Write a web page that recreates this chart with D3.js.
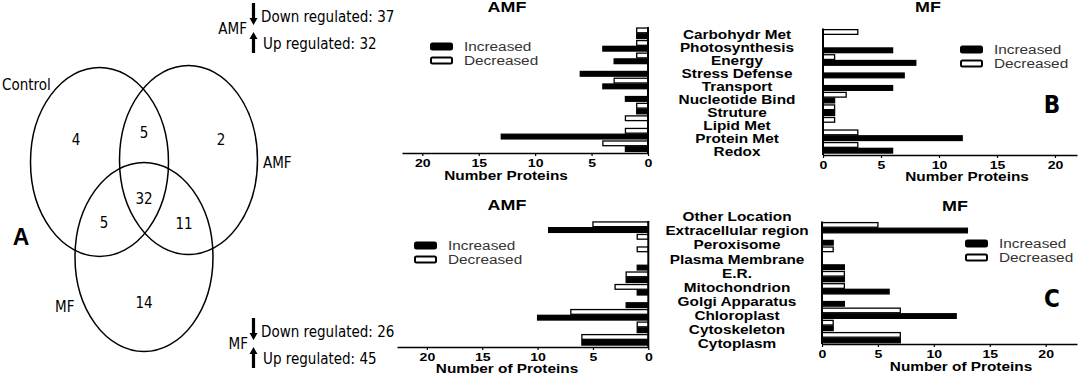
<!DOCTYPE html>
<html>
<head>
<meta charset="utf-8">
<script src="https://d3js.org/d3.v7.min.js"></script>
<style>
  body { margin: 0; background: #fff; }
  svg { display: block; }
  .bar-txt { font-family: "Liberation Sans", Arial, sans-serif; }
  .venn-txt { font-family: "Liberation Sans Narrow", "DejaVu Sans Condensed", sans-serif; }
</style>
</head>
<body>
<script>
// ---- data ----
var funcCats = ["Carbohydr Met", "Photosynthesis", "Energy", "Stress Defense", "Transport",
                "Nucleotide Bind", "Struture", "Lipid Met", "Protein Met", "Redox"];
var funcAmfInc = [1, 4, 3, 6, 4, 2, 1, 0, 13, 2];
var funcAmfDec = [1, 1, 1, 0, 3, 0, 1, 2, 2, 4];
var funcMfInc  = [0, 6, 8, 7, 6, 1, 1, 0, 12, 6];
var funcMfDec  = [3, 0, 1, 0, 0, 2, 1, 1, 3, 3];

var locCats = ["Other Location", "Extracellular region", "Peroxisome", "Plasma Membrane", "E.R.",
               "Mitochondrion", "Golgi Apparatus", "Chloroplast", "Cytoskeleton", "Cytoplasm"];
var locAmfInc = [9, 0, 0, 1, 2, 1, 2, 10, 1, 6];
var locAmfDec = [5, 1, 1, 0, 2, 3, 0, 7, 1, 6];
var locMfInc  = [13, 1, 0, 2, 2, 6, 2, 12, 1, 7];
var locMfDec  = [5, 0, 1, 0, 2, 2, 0, 7, 1, 7];

var xTicks = [0, 5, 10, 15, 20];
var series = ["Decreased", "Increased"];
var legendLabels = ["Increased", "Decreased"];

var vennSets = ["Control", "AMF", "MF"];
var vennCounts = [4, 5, 2, 5, 32, 11, 14]; // C, C&A, A, C&M, all, A&M, M
var regCounts = { AMF: { down: 37, up: 32 }, MF: { down: 26, up: 45 } };

var W = 1080, H = 378, SX = 1.28; // bar chart text is horizontally stretched

var svg = d3.select("body").append("svg").attr("width", W).attr("height", H);

// stretched text helper
function stext(g, x, y, str, size, weight, anchor) {
  return g.append("text")
    .attr("class", "bar-txt")
    .attr("transform", "translate(" + x + "," + y + ") scale(" + SX + ",1)")
    .attr("text-anchor", anchor || "middle")
    .style("font-size", size + "px")
    .style("font-weight", weight || "normal")
    .text(str);
}

// one half of a mirrored bar chart
function barPanel(o) {
  var g = svg.append("g");
  var x = d3.scaleLinear().domain([0, o.max]).range(o.xr);
  var y = d3.scaleBand().domain(o.cats).range(o.yr);
  var sub = d3.scaleBand().domain(series).range([0, y.bandwidth()]).padding(0.18);

  var rows = o.cats.map(function (c, i) {
    return [{ cat: c, s: "Decreased", v: o.dec[i] }, { cat: c, s: "Increased", v: o.inc[i] }];
  }).flat();

  g.selectAll("rect.bar").data(rows).enter().append("rect")
    .attr("class", "bar")
    .attr("x", function (d) { return Math.min(x(0), x(d.v)); })
    .attr("width", function (d) { return Math.abs(x(d.v) - x(0)); })
    .attr("y", function (d) { return y(d.cat) + sub(d.s); })
    .attr("height", sub.bandwidth())
    .attr("fill", function (d) { return d.s == "Increased" ? "#000" : "#fff"; })
    .attr("stroke", "#000")
    .attr("stroke-width", 1.3);

  // y axis line
  g.append("line")
    .attr("x1", x(0)).attr("x2", x(0))
    .attr("y1", o.yr[0]).attr("y2", o.axisY)
    .attr("stroke", "#000").attr("stroke-width", 2);

  // x axis
  var ax = g.append("g")
    .attr("transform", "translate(0," + o.axisY + ")")
    .call(d3.axisBottom(x).tickValues(xTicks).tickSize(3).tickSizeOuter(0));
  ax.select(".domain").attr("stroke-width", 1.6);
  ax.selectAll(".tick line").attr("stroke-width", 1.2);
  ax.selectAll("text")
    .attr("class", "bar-txt")
    .attr("transform", "scale(" + SX + ",1)")
    .attr("fill", "#000")
    .style("font-size", "11px")
    .style("font-weight", "bold")
    .style("font-family", "'Liberation Sans', Arial, sans-serif");

  stext(g, o.titleX, o.titleY, o.title, 14, "bold");
  stext(g, o.xTitleX, o.xTitleY, o.xTitle, 12, "bold");

  // legend
  legendLabels.forEach(function (l, i) {
    var ly = o.legY + i * 14;
    g.append("rect")
      .attr("x", o.legX).attr("y", ly - 3.5)
      .attr("width", 21).attr("height", 6)
      .attr("rx", 1.5)
      .attr("fill", l == "Increased" ? "#000" : "#fff")
      .attr("stroke", "#000").attr("stroke-width", 2);
    stext(g, o.legX + 33, ly + 4, l, 12, "normal", "start").attr("fill", "#333");
  });
}

// category labels between the panels
function catLabels(cats, yr) {
  var p = d3.scalePoint().domain(cats).range(yr);
  var g = svg.append("g");
  cats.forEach(function (c) {
    stext(g, 737, p(c) + 4.2, c, 12, "bold");
  });
}

// ---- panel B ----
barPanel({ cats: funcCats, inc: funcAmfInc, dec: funcAmfDec, max: 21.8, xr: [648, 402],
  yr: [27, 152.5], axisY: 153, title: "AMF", titleX: 507, titleY: 12,
  xTitle: "Number Proteins", xTitleX: 506, xTitleY: 180, legX: 431, legY: 47 });
barPanel({ cats: funcCats, inc: funcMfInc, dec: funcMfDec, max: 21.9, xr: [823, 1077],
  yr: [28.6, 154.1], axisY: 155, title: "MF", titleX: 928, titleY: 12,
  xTitle: "Number Proteins", xTitleX: 967, xTitleY: 181, legX: 961, legY: 50 });
catLabels(funcCats, [34.5, 152]);

// ---- panel C ----
barPanel({ cats: locCats, inc: locAmfInc, dec: locAmfDec, max: 22.7, xr: [648.3, 397],
  yr: [220.9, 346.1], axisY: 347, title: "AMF", titleX: 507, titleY: 210,
  xTitle: "Number of Proteins", xTitleX: 507, xTitleY: 373, legX: 415, legY: 246 });
barPanel({ cats: locCats, inc: locMfInc, dec: locMfDec, max: 22.8, xr: [822, 1077],
  yr: [221.6, 343.8], axisY: 344, title: "MF", titleX: 955, titleY: 211,
  xTitle: "Number of Proteins", xTitleX: 961, xTitleY: 371, legX: 966, legY: 244 });
catLabels(locCats, [217, 344]);

// panel letters
svg.append("text").attr("x", 1052).attr("y", 113).attr("text-anchor", "middle")
  .attr("class", "venn-txt").style("font-size", "24px").style("font-weight", "bold").text("B");
svg.append("text").attr("x", 1052).attr("y", 307).attr("text-anchor", "middle")
  .attr("class", "venn-txt").style("font-size", "24px").style("font-weight", "bold").text("C");

// ---- panel A: Venn ----
var vg = svg.append("g");
var ellipses = [
  { name: vennSets[0], cx: 99.5, cy: 162, lx: 2, ly: 90, anchor: "start" },
  { name: vennSets[1], cx: 188.5, cy: 160, lx: 263, ly: 168, anchor: "start" },
  { name: vennSets[2], cx: 144, cy: 257, lx: 55, ly: 312, anchor: "start" }
];
vg.selectAll("ellipse").data(ellipses).enter().append("ellipse")
  .attr("cx", function (d) { return d.cx; })
  .attr("cy", function (d) { return d.cy; })
  .attr("rx", 69).attr("ry", 94.5)
  .attr("fill", "none").attr("stroke", "#000").attr("stroke-width", 1.5);
vg.selectAll("text.setname").data(ellipses).enter().append("text")
  .attr("class", "setname venn-txt")
  .attr("x", function (d) { return d.lx; })
  .attr("y", function (d) { return d.ly; })
  .style("font-size", "15px")
  .text(function (d) { return d.name; });

var regionPos = [[76, 140], [144, 133], [221, 140], [104, 223], [144, 199], [184, 224], [144, 303]];
vg.selectAll("text.count").data(vennCounts).enter().append("text")
  .attr("class", "count venn-txt")
  .attr("x", function (d, i) { return regionPos[i][0]; })
  .attr("y", function (d, i) { return regionPos[i][1]; })
  .attr("dy", "0.35em")
  .attr("text-anchor", "middle")
  .style("font-size", "15px")
  .text(function (d) { return d; });

vg.append("text").attr("x", 21).attr("y", 245).attr("text-anchor", "middle")
  .style("font-family", "'Liberation Sans', Arial, sans-serif")
  .style("font-size", "23px").style("font-weight", "bold").text("A");

// regulation annotations with arrows
function arrow(x, y1, y2) {
  // draws a thick arrow from y1 to y2 (head at y2)
  var dir = y2 > y1 ? 1 : -1, hb = y2 - dir * 7;
  vg.append("path")
    .attr("d", "M" + (x - 1.6) + "," + y1 + "L" + (x + 1.6) + "," + y1 + "L" + (x + 1.6) + "," + hb +
      "L" + (x + 4) + "," + hb + "L" + x + "," + y2 + "L" + (x - 4) + "," + hb +
      "L" + (x - 1.6) + "," + hb + "Z")
    .attr("fill", "#000");
}
function regBlock(name, cy, labelX) {
  var r = regCounts[name];
  vg.append("text").attr("class", "venn-txt").attr("x", labelX).attr("y", cy + 5)
    .attr("text-anchor", "end").style("font-size", "15px").text(name);
  arrow(253.5, cy - 26, cy - 4);
  arrow(253.5, cy + 24, cy + 3);
  vg.append("text").attr("class", "venn-txt").attr("x", 261).attr("y", cy - 7)
    .style("font-size", "15px").text("Down regulated: " + r.down);
  vg.append("text").attr("class", "venn-txt").attr("x", 263).attr("y", cy + 20)
    .style("font-size", "15px").text("Up regulated: " + r.up);
}
regBlock("AMF", 29, 247);
regBlock("MF", 344, 248);
</script>
</body>
</html>
